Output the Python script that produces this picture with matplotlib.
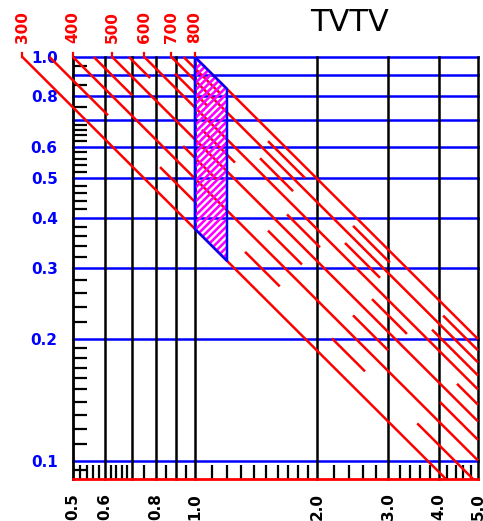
import matplotlib
matplotlib.use('Agg')
import matplotlib.pyplot as plt
import numpy as np
from matplotlib.ticker import NullFormatter
from matplotlib.patches import Polygon

# axis ranges
x_min, x_max = 0.5, 5.0
y_min, y_max = 0.09, 1.0

# grid lines
x_grid = [0.6, 0.7, 0.8, 0.9, 1.0, 2.0, 3.0, 4.0, 5.0]
y_grid = [1.0, 0.9, 0.8, 0.7, 0.6, 0.5, 0.4, 0.3, 0.2, 0.1]

# labelled ticks
x_ticks = [0.5, 0.6, 0.8, 1.0, 2.0, 3.0, 4.0, 5.0]
x_labels = ['0.5', '0.6', '0.8', '1.0', '2.0', '3.0', '4.0', '5.0']
y_ticks = [1.0, 0.8, 0.6, 0.5, 0.4, 0.3, 0.2, 0.1]
y_labels = ['1.0', '0.8', '0.6', '0.5', '0.4', '0.3', '0.2', '0.1']

# small ticks
x_minor = [0.52, 0.54, 0.56, 0.58, 0.62, 0.64, 0.66, 0.68, 0.75, 0.85, 0.95,
           1.1, 1.2, 1.3, 1.4, 1.5, 1.6, 1.7, 1.8, 1.9,
           2.2, 2.4, 2.6, 2.8, 3.2, 3.4, 3.6, 3.8, 4.2, 4.4, 4.6, 4.8]
y_minor = [0.95, 0.85, 0.75, 0.68, 0.66, 0.64, 0.62, 0.58, 0.56, 0.54, 0.52,
           0.48, 0.46, 0.44, 0.42, 0.38, 0.36, 0.34, 0.32,
           0.28, 0.26, 0.24, 0.22,
           0.19, 0.18, 0.17, 0.16, 0.15, 0.14, 0.13, 0.12, 0.11, 0.095]

# constant lines y = (v / 800) / x
solid_vals = [300, 400, 500, 600, 700, 800]
top_labels = [300, 400, 500, 600, 700, 800]
# dashed lines: x ranges of the visible pieces
seg_350 = [(0.4375, 0.61), (0.82, 1.0), (1.33, 1.62), (2.18, 2.63), (3.54, 5.0)]
seg_450 = [(0.5625, 0.70), (0.935, 1.134), (1.515, 1.838), (2.457, 3.0), (4.03, 5.0)]
seg_550 = [(0.6875, 0.775), (1.041, 1.256), (1.688, 2.036), (2.737, 3.338), (4.438, 5.0)]
seg_650 = [(0.893, 1.077), (1.448, 1.747), (2.348, 2.864), (3.85, 5.0)]
seg_750 = [(0.9375, 1.153), (1.515, 1.87), (2.457, 3.03), (4.1, 5.0)]
dashed = {350: seg_350, 450: seg_450, 550: seg_550, 650: seg_650, 750: seg_750}

# shaded zone
zone_x = [1.0, 1.2]
zone_vals = [300, 800]

RED = '#ff0000'
BLUE = '#0000ff'
MAG = '#ff00ff'

fig = plt.figure(figsize=(4.83, 5.21), dpi=100)
ax = fig.add_axes([73/483, 1 - 479/521, 405/483, 422/521])
ax.set_xscale('log')
ax.set_yscale('log')
ax.set_xlim(x_min, x_max)
ax.set_ylim(y_min, y_max)


def piece(v, a, b):
    c = v / 800.0
    lo = max(a, c / y_max)
    hi = min(b, x_max, c / y_min)
    if hi <= lo:
        return None
    return [lo, hi], [c / lo, c / hi]


for yv in y_grid:
    ax.axhline(yv, color=BLUE, lw=1.8, zorder=2, clip_on=False)
for xv in x_grid:
    ax.axvline(xv, color='black', lw=1.8, zorder=2.5, clip_on=False)

for v in solid_vals:
    p = piece(v, 0, 10)
    ax.plot(p[0], p[1], color=RED, lw=1.8, zorder=3, clip_on=False,
            solid_capstyle='butt')
for v, segs in dashed.items():
    for a, b in segs:
        p = piece(v, a, b)
        if p:
            ax.plot(p[0], p[1], color=RED, lw=1.8, zorder=3, clip_on=False,
                    solid_capstyle='butt')

# shaded zone with "///" stripes
c_lo = zone_vals[0] / 800.0
c_hi = zone_vals[1] / 800.0
pts = [(zone_x[0], c_hi / zone_x[0]), (zone_x[1], c_hi / zone_x[1]),
       (zone_x[1], c_lo / zone_x[1]), (zone_x[0], c_lo / zone_x[0])]
zone = Polygon(pts, closed=True, facecolor='none', edgecolor='none', lw=0,
               zorder=4)
ax.add_patch(zone)
step = 7.0 / 405  # stripe spacing in decades (~7 px)
for lr in np.arange(np.log10(c_lo / zone_x[1] ** 2) - step, 0.02, step):
    r = 10 ** lr
    ln, = ax.plot([0.9, 1.3], [0.9 * r, 1.3 * r], color=MAG, lw=1.9,
                  zorder=4, solid_capstyle='butt')
    ln.set_clip_path(zone)
px = [p[0] for p in pts] + [pts[0][0]]
py = [p[1] for p in pts] + [pts[0][1]]
ax.plot(px, py, color=BLUE, lw=1.8, zorder=5)

# red labels on top
for v in top_labels:
    xv = v / 800.0
    ax.plot([xv, xv], [1.0, 1.022], color=RED, lw=1.6, clip_on=False, zorder=3)
    ax.annotate(str(v), xy=(xv, 1.0), xytext=(0, 10), textcoords='offset points',
                rotation=90, ha='center', va='bottom', color=RED,
                fontsize=11, fontweight='bold', annotation_clip=False)

ax.set_xticks(x_ticks, labels=x_labels)
ax.set_yticks(y_ticks, labels=y_labels)
ax.set_xticks(x_minor, minor=True)
ax.set_yticks(y_minor, minor=True)
ax.xaxis.set_minor_formatter(NullFormatter())
ax.yaxis.set_minor_formatter(NullFormatter())
ax.tick_params(which='major', length=0)
ax.tick_params(axis='x', which='major', pad=10, labelsize=11, labelrotation=90)
ax.tick_params(axis='y', which='major', pad=11, labelsize=11, labelcolor=BLUE)
ax.tick_params(which='minor', direction='in', length=10, width=1.6, color='black')
for lab in ax.get_xticklabels() + ax.get_yticklabels():
    lab.set_fontweight('bold')

for s in ['top', 'right']:
    ax.spines[s].set_visible(False)
ax.spines['left'].set_color('black')
ax.spines['left'].set_linewidth(2)
ax.spines['bottom'].set_color(RED)
ax.spines['bottom'].set_linewidth(2)
ax.spines['bottom'].set_zorder(6)

fig.text(349/483, 1 - 22.5/521, 'TVTV', ha='center', va='center',
         fontsize=22, fontweight='normal', color='black')

fig.savefig('out.png', dpi=100)
